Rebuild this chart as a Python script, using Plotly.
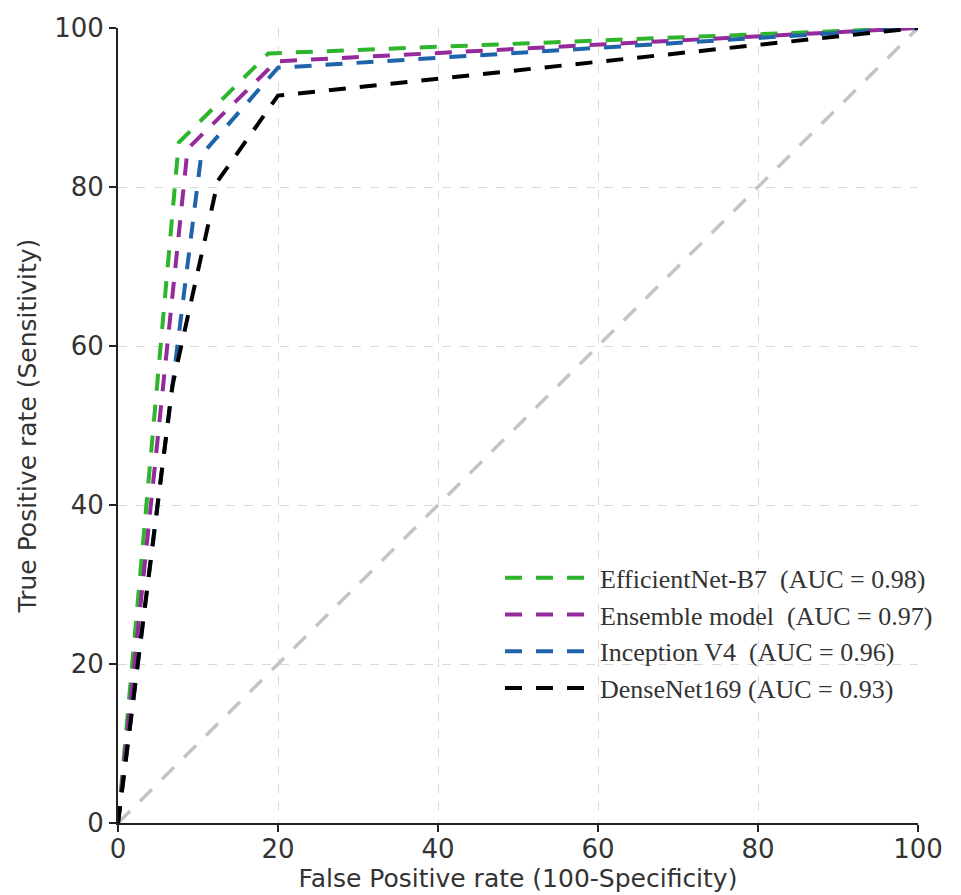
import plotly.graph_objects as go

# Data
names = ["EfficientNet-B7  (AUC = 0.98)", "Ensemble model  (AUC = 0.97)",
         "Inception V4  (AUC = 0.96)", "DenseNet169 (AUC = 0.93)"]
colors = ["#2db52d", "#952a9b", "#1f63ab", "#000000"]
fpr_eff = [0, 7.6, 18.8, 100]
tpr_eff = [0, 85.6, 96.8, 100]
fpr_ens = [0, 8.7, 19.8, 100]
tpr_ens = [0, 84.8, 95.8, 100]
fpr_inc = [0, 10.4, 20.0, 100]
tpr_inc = [0, 84.0, 95.0, 100]
fpr_den = [0, 6.8, 12.5, 20.0, 100]
tpr_den = [0, 55.0, 80.8, 91.5, 100]
diag = [0, 100]
xticks = [0, 20, 40, 60, 80, 100]
yticks = [0, 20, 40, 60, 80, 100]

fig = go.Figure()
fig.add_trace(go.Scatter(x=diag, y=diag, mode="lines", showlegend=False,
                         line=dict(color="#c4c4c4", width=3.5, dash="17px,14px")))
series = [(fpr_eff, tpr_eff), (fpr_ens, tpr_ens), (fpr_inc, tpr_inc), (fpr_den, tpr_den)]
for (xs, ys), n, c in zip(series, names, colors):
    fig.add_trace(go.Scatter(x=xs, y=ys, mode="lines", name=n,
                             line=dict(color=c, width=4, dash="17px,14px")))

fig.update_layout(
    width=953, height=887,
    margin=dict(l=110, r=43, t=20, b=72),
    plot_bgcolor="white", paper_bgcolor="white",
    font=dict(family="DejaVu Sans", size=26, color="#333333"),
    legend=dict(x=0.4775, y=0.338, xanchor="left", yanchor="top",
                bgcolor="rgba(255,255,255,0)", itemwidth=90,
                font=dict(family="Liberation Serif", size=26, color="#333333"),
                tracegroupgap=0),
    showlegend=True,
)
fig.update_xaxes(range=[0, 100], tickvals=xticks, showline=True, linecolor="#222",
                 linewidth=2, ticks="outside", ticklen=7, tickcolor="#222", tickwidth=1.5,
                 showgrid=True, gridcolor="#d9d9d9", griddash="dash", gridwidth=1,
                 zeroline=False, mirror=False, automargin=False, ticklabelstandoff=-5,
                 title=dict(text="False Positive rate (100-Specificity)", standoff=4,
                            font=dict(size=25)))
fig.update_yaxes(range=[0, 100], tickvals=yticks, showline=True, linecolor="#222",
                 linewidth=2, ticks="outside", ticklen=7, tickcolor="#222", tickwidth=1.5,
                 showgrid=True, gridcolor="#d9d9d9", griddash="dash", gridwidth=1,
                 zeroline=False, automargin=False,
                 title=dict(text="True Positive rate (Sensitivity)", standoff=10,
                            font=dict(size=25)))

fig.write_html("out.html")
